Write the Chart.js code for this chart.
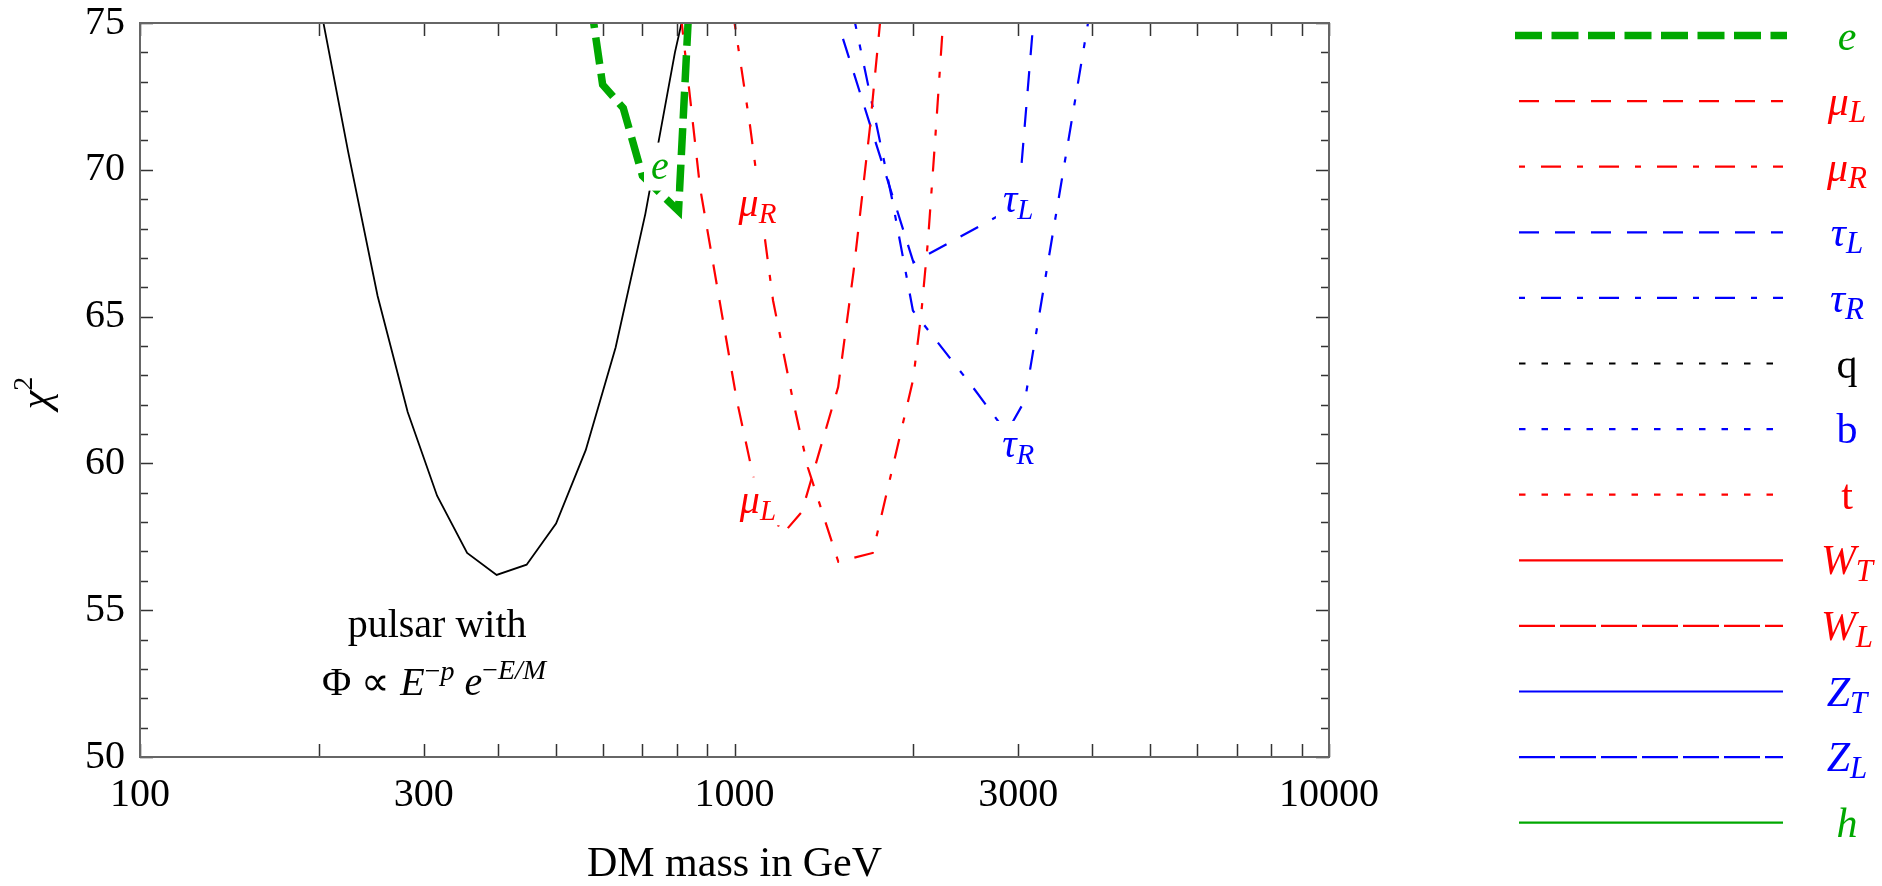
<!DOCTYPE html>
<html>
<head>
<meta charset="utf-8">
<title>chi2 vs DM mass</title>
<script src="https://cdn.jsdelivr.net/npm/chart.js@4.4.1/dist/chart.umd.min.js"></script>
<style>
  html, body { margin: 0; padding: 0; background: #fff; }
  #wrap { width: 1882px; height: 886px; }
</style>
</head>
<body>
<div id="wrap"><canvas id="chi2Chart" width="1882" height="886"></canvas></div>
<script>
// --- DATA (DM mass in GeV, chi^2) ---
const pulsarMass = [178, 200, 224, 251, 282, 316, 355, 398, 447, 501, 562, 631, 708, 794, 891];
const pulsarChi2 = [81.5, 75.8, 70.6, 65.7, 61.75, 58.9, 56.95, 56.2, 56.55, 57.95, 60.45, 63.95, 68.5, 74.0, 78.5];

const eMass = [550, 600, 650, 700, 750, 805, 850];
const eChi2 = [78.2, 72.9, 72.1, 69.8, 69.2, 68.6, 78.0];

const muLMass = [800, 875, 952, 1009, 1078, 1206, 1298, 1494, 1585, 1690, 1790];
const muLChi2 = [76.5, 69.4, 65.1, 62.15, 59.45, 57.6, 58.35, 62.6, 66.5, 71.45, 76.7];

const muRMass = [980, 1062, 1161, 1254, 1329, 1495, 1708, 1997, 2059, 2116, 2175, 2300];
const muRChi2 = [76.2, 71.5, 65.55, 62.15, 59.85, 56.65, 56.95, 62.85, 65.0, 67.6, 71.0, 78.3];

const tauLMass = [1400, 2000, 3000, 3300];
const tauLChi2 = [76.8, 66.85, 68.8, 78.9];

const tauRMass = [1550, 1839, 1996, 2538, 2797, 2907, 3080, 4000];
const tauRChi2 = [76.2, 69.05, 65.2, 62.5, 61.35, 61.25, 62.15, 75.9];

// axis ticks
const xTickValues = [100, 200, 300, 400, 500, 600, 700, 800, 900,
                     1000, 2000, 3000, 4000, 5000, 6000, 7000, 8000, 9000, 10000];
const xLabelValues = [100, 300, 1000, 3000, 10000];
const yMinorStep = 1;
const yMajorStep = 5;

// --- STYLE ---
const SERIF = '"Liberation Serif", "Times New Roman", serif';
const font = (size, italic) => `${italic ? 'italic ' : ''}${size}px ${SERIF}`;
const RED = '#ff0000', BLUE = '#0000ff', GREEN = '#00a800', BLACK = '#000000';
const DASH = [20, 16];
const DASHDOT = [6, 16, 20, 16];
const DOT = [6.5, 16];
const LONGDASH = [36, 5];
const THICKDASH = [27, 9.5];

// main symbol plus optional subscript, as text runs
function symbol(main, sub, italic = true, size = 40){
  const runs = [{t: main, font: font(size, italic)}];
  if(sub) runs.push({t: sub, font: font(Math.round(size * 0.73), true), dy: 7});
  return runs;
}

function series(key, name, mass, chi2, color, width, dash){
  return {
    label: key, symbol: name,
    data: mass.map((m, i) => ({x: m, y: chi2[i]})),
    borderColor: color, backgroundColor: color,
    borderWidth: width, borderDash: dash,
    pointRadius: 0, tension: 0, fill: false, clip: 0
  };
}

const datasets = [
  series('e',   symbol('e', null, true, 42),           eMass,    eChi2,    GREEN, 7.5, THICKDASH),
  series('muL', symbol('\u03bc', 'L', true, 42), muLMass,  muLChi2,  RED,   2.2, DASH),
  series('muR', symbol('\u03bc', 'R', true, 42), muRMass,  muRChi2,  RED,   2.2, DASHDOT),
  series('tauL',symbol('\u03c4', 'L', true, 42), tauLMass, tauLChi2, BLUE,  2.2, DASH),
  series('tauR',symbol('\u03c4', 'R', true, 42), tauRMass, tauRChi2, BLUE,  2.2, DASHDOT),
  series('q',   symbol('q', null, false, 42), [], [], BLACK, 2.2, DOT),
  series('b',   symbol('b', null, false, 42), [], [], BLUE,  2.2, DOT),
  series('t',   symbol('t', null, false, 42), [], [], RED,   2.2, DOT),
  series('WT',  symbol('W', 'T', true, 42),      [], [], RED,   2.2, []),
  series('WL',  symbol('W', 'L', true, 42),      [], [], RED,   2.2, LONGDASH),
  series('ZT',  symbol('Z', 'T', true, 42),      [], [], BLUE,  2.2, []),
  series('ZL',  symbol('Z', 'L', true, 42),      [], [], BLUE,  2.2, LONGDASH),
  series('h',   symbol('h', null, true, 42),     [], [], GREEN, 2.2, []),
  series('pulsar', null, pulsarMass, pulsarChi2, BLACK, 1.8, [])
];

// in-plot curve labels: centre mass, baseline chi^2
const curveLabels = [
  {runs: symbol('e'),           mass: 749,  chi2: 69.7,  color: GREEN},
  {runs: symbol('\u03bc', 'R'), mass: 1093, chi2: 68.42, color: RED},
  {runs: symbol('\u03bc', 'L'), mass: 1095, chi2: 58.3,  color: RED},
  {runs: symbol('\u03c4', 'L'), mass: 3000, chi2: 68.56, color: BLUE},
  {runs: symbol('\u03c4', 'R'), mass: 3000, chi2: 60.22, color: BLUE}
];

// --- TEXT HELPERS ---
function runsWidth(ctx, runs){
  return runs.reduce((w, r) => { ctx.font = r.font; return w + ctx.measureText(r.t).width; }, 0);
}
function drawRuns(ctx, runs, x, y, color){
  ctx.fillStyle = color;
  ctx.textAlign = 'left';
  ctx.textBaseline = 'alphabetic';
  runs.forEach(r => {
    ctx.font = r.font;
    ctx.fillText(r.t, x, y + (r.dy || 0));
    x += ctx.measureText(r.t).width;
  });
}

// --- PLUGINS ---
const curveLabelPlugin = {
  id: 'curveLabels',
  afterDatasetsDraw(chart){
    const {ctx, scales: {x, y}} = chart;
    ctx.save();
    curveLabels.forEach(l => {
      const cx = x.getPixelForValue(l.mass), by = y.getPixelForValue(l.chi2);
      const w = runsWidth(ctx, l.runs);
      ctx.fillStyle = '#fff';
      ctx.fillRect(cx - w/2 - 7, by - 36, w + 14, 48);
      drawRuns(ctx, l.runs, cx - w/2, by, l.color);
    });

    // pulsar annotation
    const px = x.getPixelForValue(316), py = y.getPixelForValue(54.08);
    const line1 = [{t: 'pulsar with', font: font(40, false)}];
    const line2 = [
      {t: '\u03a6 \u221d ', font: font(40, false)},
      {t: 'E', font: font(40, true)},
      {t: '\u2212', font: font(28, false), dy: -15},
      {t: 'p', font: font(28, true), dy: -15},
      {t: ' ', font: font(40, false)},
      {t: 'e', font: font(40, true)},
      {t: '\u2212', font: font(28, false), dy: -16},
      {t: 'E/M', font: font(28, true), dy: -16}
    ];
    drawRuns(ctx, line1, px - runsWidth(ctx, line1)/2, py, BLACK);
    drawRuns(ctx, line2, px - 3 - runsWidth(ctx, line2)/2, py + 58, BLACK);
    ctx.restore();
  }
};

const frameTicksPlugin = {
  id: 'frameTicks',
  afterDraw(chart){
    const {ctx, chartArea: a, scales: {x, y}} = chart;
    ctx.save();
    ctx.strokeStyle = '#333';
    ctx.lineWidth = 1.5;
    ctx.beginPath();
    xTickValues.forEach(v => {
      const p = Math.round(x.getPixelForValue(v)) + 0.5;
      ctx.moveTo(p, a.bottom); ctx.lineTo(p, a.bottom - 13);
      ctx.moveTo(p, a.top);    ctx.lineTo(p, a.top + 13);
    });
    for(let v = y.min; v <= y.max; v += yMinorStep){
      const p = Math.round(y.getPixelForValue(v)) + 0.5;
      const len = v % yMajorStep === 0 ? 13 : 8;
      ctx.moveTo(a.left, p);  ctx.lineTo(a.left + len, p);
      ctx.moveTo(a.right, p); ctx.lineTo(a.right - len, p);
    }
    ctx.stroke();
    ctx.strokeStyle = '#666';
    ctx.lineWidth = 2;
    ctx.strokeRect(a.left, a.top, a.right - a.left, a.bottom - a.top);

    // y axis title: italic chi with a superscript 2, reading upwards
    const cy = (a.top + a.bottom) / 2;
    const title = [{t: '\u03c7', font: font(42, true)}, {t: '2', font: font(28, false), dy: -17}];
    ctx.translate(49, cy + 3);
    ctx.rotate(-Math.PI / 2);
    drawRuns(ctx, title, -runsWidth(ctx, title)/2, 0, BLACK);
    ctx.restore();
  }
};

const sideLegendPlugin = {
  id: 'sideLegend',
  afterDraw(chart){
    const {ctx} = chart;
    ctx.save();
    chart.data.datasets.filter(d => d.symbol).forEach((d, i) => {
      const yy = 35.5 + i * 65.6;
      const thick = d.borderWidth > 4;
      ctx.strokeStyle = d.borderColor;
      ctx.lineWidth = d.borderWidth;
      ctx.setLineDash(d.borderDash);
      ctx.beginPath();
      ctx.moveTo(thick ? 1515 : 1519, yy);
      ctx.lineTo(thick ? 1787 : 1783, yy);
      ctx.stroke();
      ctx.setLineDash([]);
      const w = runsWidth(ctx, d.symbol);
      drawRuns(ctx, d.symbol, 1847 - w/2, yy + 14, d.borderColor);
    });
    ctx.restore();
  }
};

// --- CHART ---
const ctx = document.getElementById('chi2Chart').getContext('2d');
new Chart(ctx, {
  type: 'line',
  data: {datasets},
  options: {
    responsive: false,
    animation: false,
    devicePixelRatio: 1,
    layout: {padding: {top: 23, right: 553, left: 0, bottom: 0}},
    plugins: {legend: {display: false}, tooltip: {enabled: false}},
    scales: {
      x: {
        type: 'logarithmic', min: 100, max: 10000,
        grid: {display: false, drawTicks: false},
        border: {display: false},
        afterBuildTicks(scale){ scale.ticks = xTickValues.map(v => ({value: v})); },
        afterFit(scale){
          scale.height = 129;
          scale.paddingLeft = scale.paddingRight = 0;
        },
        ticks: {
          autoSkip: false, maxRotation: 0, minRotation: 0, padding: 14,
          color: BLACK, font: {family: SERIF, size: 40},
          callback: v => xLabelValues.includes(v) ? String(v) : ''
        },
        title: {
          display: true, text: 'DM mass in GeV', color: BLACK,
          font: {family: SERIF, size: 42, lineHeight: 1},
          padding: {top: 0, bottom: 0}
        }
      },
      y: {
        type: 'linear', min: 50, max: 75,
        grid: {display: false, drawTicks: false},
        border: {display: false},
        afterFit(scale){
          scale.width = 140;
          scale.paddingTop = scale.paddingBottom = 0;
        },
        ticks: {
          stepSize: yMajorStep, padding: 15,
          color: BLACK, font: {family: SERIF, size: 40}
        },
        title: {display: false}
      }
    }
  },
  plugins: [curveLabelPlugin, frameTicksPlugin, sideLegendPlugin]
});
</script>
</body>
</html>
